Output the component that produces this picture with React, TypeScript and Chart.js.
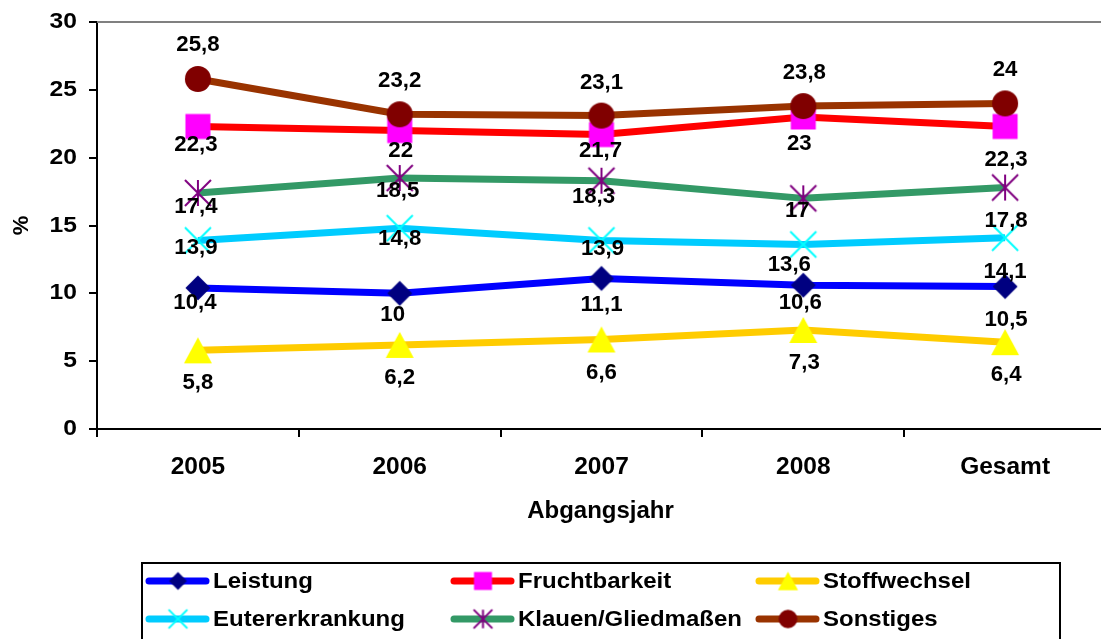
import { useEffect, useRef } from 'react';
import { Chart, registerables } from 'chart.js';

Chart.register(...registerables);

// ---- Data ----
const categories = ['2005', '2006', '2007', '2008', 'Gesamt'];
const leistung = [10.4, 10, 11.1, 10.6, 10.5];
const fruchtbarkeit = [22.3, 22, 21.7, 23, 22.3];
const stoffwechsel = [5.8, 6.2, 6.6, 7.3, 6.4];
const eutererkrankung = [13.9, 14.8, 13.9, 13.6, 14.1];
const klauen = [17.4, 18.5, 18.3, 17, 17.8];
const sonstiges = [25.8, 23.2, 23.1, 23.8, 24];
const seriesNames = ['Leistung', 'Fruchtbarkeit', 'Stoffwechsel', 'Eutererkrankung', 'Klauen/Gliedmaßen', 'Sonstiges'];
const seriesValues = [leistung, fruchtbarkeit, stoffwechsel, eutererkrankung, klauen, sonstiges];
const yMin = 0;
const yMax = 30;
const yStep = 5;
const xTitle = 'Abgangsjahr';
const yTitle = '%';

// ---- Styles ----
const lineColors = ['#0000FF', '#FF0000', '#FFCC00', '#00CCFF', '#339966', '#993300'];
const markerColors = ['#000080', '#FF00FF', '#FFFF00', '#00FFFF', '#800080', '#800000'];
const markerKinds = ['diamond', 'square', 'triangle', 'xcross', 'star', 'circle'];
// label offsets (dx, dy) relative to each point, in px
const labelDx = [
  [-3, -7, 0, -3, 1],
  [-2, 1, -1, -4, 1],
  [0, 0, 0, 1, 1],
  [-2, 0, 1, -14, 0],
  [-2, -2, -8, -6, 1],
  [0, 0, 0, 1, 0],
];
const labelDy = [
  [15, 22, 27, 18, 33],
  [18, 20, 16, 27, 33],
  [33, 33, 33, 33, 33],
  [8, 11, 9, 20, 34],
  [14, 13, 16, 13, 33],
  [-34, -33, -33, -33, -33],
];

const FONT_FAMILY = '"Liberation Sans", Arial, Helvetica, sans-serif';

function drawText(
  ctx: CanvasRenderingContext2D,
  str: string,
  x: number,
  y: number,
  size: number,
  sx: number,
  align: CanvasTextAlign,
  rot = 0,
) {
  ctx.save();
  ctx.translate(x, y);
  if (rot) ctx.rotate(rot);
  ctx.scale(sx, 1);
  ctx.font = `bold ${size}px ${FONT_FAMILY}`;
  ctx.fillStyle = '#000';
  ctx.textAlign = align;
  ctx.textBaseline = 'middle';
  ctx.fillText(str, 0, 0);
  ctx.restore();
}

function makeMarker(kind: string, color: string, s: number): HTMLCanvasElement {
  const c = document.createElement('canvas');
  const size = Math.ceil(34 * s) + 4;
  c.width = size;
  c.height = size;
  const ctx = c.getContext('2d')!;
  const m = size / 2;
  ctx.fillStyle = color;
  ctx.strokeStyle = color;
  ctx.lineWidth = 2;
  ctx.beginPath();
  switch (kind) {
    case 'diamond': {
      const r = 12.5 * s;
      ctx.moveTo(m, m - r);
      ctx.lineTo(m + r, m);
      ctx.lineTo(m, m + r);
      ctx.lineTo(m - r, m);
      ctx.closePath();
      ctx.fill();
      break;
    }
    case 'square': {
      const h = 12.5 * s;
      ctx.rect(m - h, m - h, 2 * h, 2 * h);
      ctx.fill();
      break;
    }
    case 'triangle': {
      const w = 14 * s;
      const h = 13 * s;
      ctx.moveTo(m, m - h);
      ctx.lineTo(m + w, m + h);
      ctx.lineTo(m - w, m + h);
      ctx.closePath();
      ctx.fill();
      break;
    }
    case 'xcross': {
      const r = 13 * s;
      ctx.moveTo(m - r, m - r);
      ctx.lineTo(m + r, m + r);
      ctx.moveTo(m + r, m - r);
      ctx.lineTo(m - r, m + r);
      ctx.stroke();
      break;
    }
    case 'star': {
      const r = 13 * s;
      ctx.moveTo(m, m - r);
      ctx.lineTo(m, m + r);
      ctx.moveTo(m - r, m - r);
      ctx.lineTo(m + r, m + r);
      ctx.moveTo(m + r, m - r);
      ctx.lineTo(m - r, m + r);
      ctx.stroke();
      break;
    }
    case 'circle': {
      ctx.arc(m, m, 13 * s, 0, Math.PI * 2);
      ctx.fill();
      break;
    }
  }
  return c;
}

const topBorderPlugin = {
  id: 'topBorder',
  beforeDatasetsDraw(chart: any) {
    const { ctx, chartArea } = chart;
    ctx.save();
    ctx.strokeStyle = '#808080';
    ctx.lineWidth = 2;
    ctx.beginPath();
    ctx.moveTo(chartArea.left, chartArea.top);
    ctx.lineTo(chartArea.right, chartArea.top);
    ctx.stroke();
    ctx.restore();
  },
};

const axisTextPlugin = {
  id: 'axisText',
  afterDraw(chart: any) {
    const ctx = chart.ctx;
    const xs = chart.scales.x;
    const ys = chart.scales.y;
    const area = chart.chartArea;
    xs.ticks.forEach((t: any, i: number) => {
      drawText(ctx, String(xs.getLabelForValue(t.value)), xs.getPixelForTick(i), 467, 24.5, 1, 'center');
    });
    ys.ticks.forEach((t: any) => {
      drawText(ctx, String(t.value), 77, ys.getPixelForValue(t.value), 22, 1.12, 'right');
    });
    drawText(ctx, xTitle, (area.left + area.right) / 2 - 1, 511, 24, 1, 'center');
    drawText(ctx, yTitle, 22, (area.top + area.bottom) / 2, 22, 1, 'center', -Math.PI / 2);
  },
};

const dataLabelPlugin = {
  id: 'dataLabels',
  afterDatasetsDraw(chart: any) {
    const ctx = chart.ctx;
    chart.data.datasets.forEach((ds: any, di: number) => {
      const meta = chart.getDatasetMeta(di);
      meta.data.forEach((pt: any, i: number) => {
        const v = ds.data[i];
        const txt = String(v).replace('.', ',');
        drawText(ctx, txt, pt.x + labelDx[di][i], pt.y + labelDy[di][i], 22, 1.01, 'center');
      });
    });
  },
};

const legendPlugin = {
  id: 'boxLegend',
  afterDraw(chart: any) {
    const ctx = chart.ctx;
    ctx.save();
    ctx.strokeStyle = '#000';
    ctx.lineWidth = 2;
    ctx.strokeRect(142, 563, 1060 - 142, 100);
    const colX = [146, 451, 756];
    const rowY = [581, 619];
    chart.data.datasets.forEach((ds: any, di: number) => {
      const x0 = colX[di % 3];
      const y = rowY[Math.floor(di / 3)];
      ctx.strokeStyle = ds.borderColor;
      ctx.lineWidth = 7;
      ctx.lineCap = 'round';
      ctx.beginPath();
      ctx.moveTo(x0 + 3, y);
      ctx.lineTo(x0 + 60, y);
      ctx.stroke();
      const mk = (ds as any).legendMarker as HTMLCanvasElement;
      ctx.drawImage(mk, x0 + 32 - mk.width / 2, y - mk.height / 2);
      drawText(ctx, ds.label, x0 + 67, y + 1, 22, 1.09, 'left');
    });
    ctx.restore();
  },
};

export default function App() {
  const canvasRef = useRef<HTMLCanvasElement | null>(null);

  useEffect(() => {
    const canvas = canvasRef.current;
    if (!canvas) return;
    const datasets = seriesNames.map((name, i) => ({
      label: name,
      data: seriesValues[i],
      borderColor: lineColors[i],
      backgroundColor: lineColors[i],
      borderWidth: 7,
      tension: 0,
      pointStyle: makeMarker(markerKinds[i], markerColors[i], 1),
      legendMarker: makeMarker(markerKinds[i], markerColors[i], 0.72),
      pointRadius: 13,
      pointHoverRadius: 13,
      order: 6 - i,
    }));

    const chart = new Chart(canvas, {
      type: 'line',
      data: { labels: categories, datasets: datasets as any },
      plugins: [topBorderPlugin, dataLabelPlugin, axisTextPlugin, legendPlugin],
      options: {
        animation: false,
        responsive: false,
        maintainAspectRatio: false,
        events: [],
        layout: { autoPadding: false, padding: { top: 22, left: 0, right: 0, bottom: 0 } },
        plugins: {
          legend: { display: false },
          tooltip: { enabled: false },
          title: { display: false },
        },
        scales: {
          x: {
            type: 'category',
            offset: true,
            grid: {
              offset: true,
              drawOnChartArea: false,
              drawTicks: true,
              tickLength: 8,
              color: '#000',
              lineWidth: 2,
            },
            border: { display: true, color: '#000', width: 2 },
            ticks: { display: false, autoSkip: false, maxRotation: 0 },
            title: { display: false },
            afterFit(scale: any) {
              scale.height = 210;
            },
          },
          y: {
            min: yMin,
            max: yMax,
            grid: {
              drawOnChartArea: false,
              drawTicks: true,
              tickLength: 8,
              color: '#000',
              lineWidth: 2,
            },
            border: { display: true, color: '#000', width: 2 },
            ticks: { display: false, stepSize: yStep },
            title: { display: false },
            afterFit(scale: any) {
              scale.width = 97;
            },
          },
        },
      } as any,
    });
    return () => chart.destroy();
  }, []);

  return (
    <div
      style={{
        position: 'absolute',
        left: 0,
        top: 0,
        width: 1101,
        height: 639,
        overflow: 'hidden',
        background: '#fff',
      }}
    >
      <canvas ref={canvasRef} width={1106} height={639} style={{ width: 1106, height: 639, display: 'block' }} />
    </div>
  );
}
